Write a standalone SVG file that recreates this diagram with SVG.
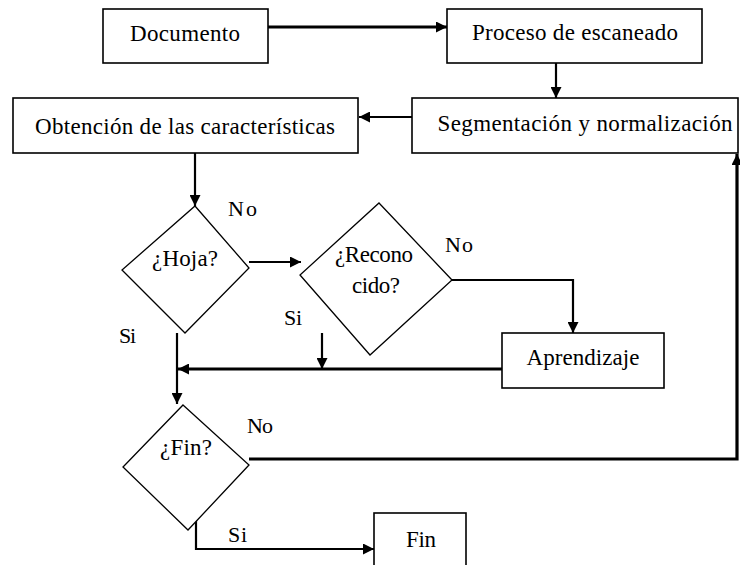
<svg xmlns="http://www.w3.org/2000/svg" width="740" height="565" viewBox="0 0 740 565">
  <defs>
    <marker id="ah" viewBox="0 0 10 10" refX="10" refY="5" markerWidth="11" markerHeight="11" markerUnits="userSpaceOnUse" orient="auto">
      <path d="M0,0 L10,5 L0,10 Z" fill="#000000"/>
    </marker>
  </defs>
  <rect width="740" height="565" fill="#ffffff"/>

  <g id="connectors" fill="none" stroke="#000000" stroke-width="2.2">
    <line stroke-width="3.2" x1="268" y1="27" x2="447" y2="27" marker-end="url(#ah)"/>
    <line x1="556" y1="63" x2="556" y2="98" marker-end="url(#ah)"/>
    <line x1="412" y1="117" x2="359" y2="117" marker-end="url(#ah)"/>
    <line x1="195" y1="153" x2="195" y2="206" marker-end="url(#ah)"/>
    <line x1="249" y1="262" x2="301" y2="262" marker-end="url(#ah)"/>
    <path d="M452,280 H573 V333" marker-end="url(#ah)"/>
    <line stroke-width="3.2" x1="502" y1="369" x2="178" y2="369" marker-end="url(#ah)"/>
    <line x1="322" y1="333" x2="322" y2="369" marker-end="url(#ah)"/>
    <line x1="177" y1="333" x2="177" y2="404" marker-end="url(#ah)"/>
    <path stroke-width="3.2" d="M249,459 H737 V154" marker-end="url(#ah)"/>
    <path d="M196,520 V549 H374" marker-end="url(#ah)"/>
  </g>

  <g id="documento">
    <rect x="103" y="9" width="165" height="54" fill="#ffffff" stroke="#000000" stroke-width="1.6"/>
    <text x="185" y="41" font-family="Liberation Serif" font-size="23" text-anchor="middle" textLength="110" lengthAdjust="spacing">Documento</text>
  </g>
  <g id="proceso">
    <rect x="447" y="9" width="255" height="54" fill="#ffffff" stroke="#000000" stroke-width="1.6"/>
    <text x="575" y="40" font-family="Liberation Serif" font-size="23" text-anchor="middle" textLength="206" lengthAdjust="spacing">Proceso de escaneado</text>
  </g>
  <g id="segmentacion">
    <rect x="412" y="98" width="326" height="55" fill="#ffffff" stroke="#000000" stroke-width="1.6"/>
    <text x="585" y="131" font-family="Liberation Serif" font-size="23" text-anchor="middle" textLength="295" lengthAdjust="spacing">Segmentación y normalización</text>
  </g>
  <g id="obtencion">
    <rect x="13" y="98" width="345" height="55" fill="#ffffff" stroke="#000000" stroke-width="1.6"/>
    <text x="185" y="134" font-family="Liberation Serif" font-size="23" text-anchor="middle" textLength="300" lengthAdjust="spacing">Obtención de las características</text>
  </g>
  <g id="hoja">
    <polygon points="195,206 249,268 185,333 122,270" fill="#ffffff" stroke="#000000" stroke-width="1.3"/>
    <text x="185" y="266" font-family="Liberation Serif" font-size="23" text-anchor="middle" textLength="66" lengthAdjust="spacing">¿Hoja?</text>
  </g>
  <g id="reconocido">
    <polygon points="379,203 452,280 370,355 300,275" fill="#ffffff" stroke="#000000" stroke-width="1.3"/>
    <text x="374" y="262" font-family="Liberation Serif" font-size="23" text-anchor="middle" textLength="78" lengthAdjust="spacing">¿Recono</text>
    <text x="376" y="293" font-family="Liberation Serif" font-size="23" text-anchor="middle" textLength="48" lengthAdjust="spacing">cido?</text>
  </g>
  <g id="aprendizaje">
    <rect x="502" y="333" width="162" height="55" fill="#ffffff" stroke="#000000" stroke-width="1.6"/>
    <text x="583" y="365" font-family="Liberation Serif" font-size="23" text-anchor="middle" textLength="113" lengthAdjust="spacing">Aprendizaje</text>
  </g>
  <g id="fin-decision">
    <polygon points="183,405 249,465 188,530 123,467" fill="#ffffff" stroke="#000000" stroke-width="1.3"/>
    <text x="186" y="455" font-family="Liberation Serif" font-size="23" text-anchor="middle" textLength="52" lengthAdjust="spacing">¿Fin?</text>
  </g>
  <g id="fin">
    <rect x="374" y="513" width="92" height="70" fill="#ffffff" stroke="#000000" stroke-width="1.6"/>
    <text x="421" y="547" font-family="Liberation Serif" font-size="23" text-anchor="middle" textLength="30" lengthAdjust="spacing">Fin</text>
  </g>
  <g id="labels">
    <text x="228" y="216" font-family="Liberation Serif" font-size="22" textLength="29" lengthAdjust="spacing">No</text>
    <text x="445" y="252" font-family="Liberation Serif" font-size="22" textLength="28" lengthAdjust="spacing">No</text>
    <text x="284" y="325" font-family="Liberation Serif" font-size="22" textLength="18" lengthAdjust="spacing">Si</text>
    <text x="119" y="343" font-family="Liberation Serif" font-size="22" textLength="17" lengthAdjust="spacing">Si</text>
    <text x="247" y="433" font-family="Liberation Serif" font-size="22" textLength="26" lengthAdjust="spacing">No</text>
    <text x="228" y="542" font-family="Liberation Serif" font-size="22" textLength="19" lengthAdjust="spacing">Si</text>
  </g>
</svg>
